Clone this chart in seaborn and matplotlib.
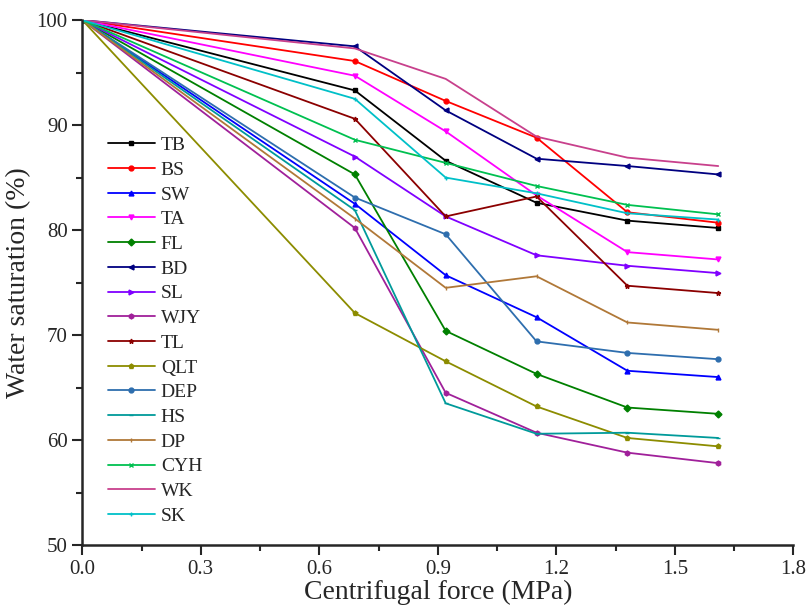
import pandas as pd
import seaborn as sns
import matplotlib.pyplot as plt

# centrifugal force steps (MPa)
force = [0, 0.69, 0.92, 1.15, 1.38, 1.61]

# water saturation (%) per sample
TB = [100, 93.3, 86.6, 82.6, 80.9, 80.2]
BS = [100, 96.1, 92.3, 88.8, 81.7, 80.7]
SW = [100, 82.5, 75.7, 71.7, 66.6, 66.0]
TA = [100, 94.7, 89.4, 83.3, 77.9, 77.2]
FL = [100, 85.3, 70.4, 66.3, 63.1, 62.5]
BD = [100, 97.5, 91.4, 86.8, 86.1, 85.3]
SL = [100, 87.0, 81.3, 77.6, 76.6, 75.9]
WJY = [100, 80.2, 64.5, 60.7, 58.8, 57.8]
TL = [100, 90.6, 81.3, 83.2, 74.7, 74.0]
QLT = [100, 72.1, 67.5, 63.2, 60.2, 59.4]
DEP = [100, 83.1, 79.6, 69.4, 68.3, 67.7]
HS = [100, 81.9, 63.5, 60.6, 60.7, 60.2]
DP = [100, 81.1, 74.5, 75.6, 71.2, 70.5]
CYH = [100, 88.6, 86.4, 84.2, 82.4, 81.5]
WK = [100, 97.3, 94.4, 88.9, 86.9, 86.1]
SK = [100, 92.5, 85.0, 83.5, 81.6, 81.0]

names = ['TB', 'BS', 'SW', 'TA', 'FL', 'BD', 'SL', 'WJY', 'TL', 'QLT',
         'DEP', 'HS', 'DP', 'CYH', 'WK', 'SK']
values = [TB, BS, SW, TA, FL, BD, SL, WJY, TL, QLT, DEP, HS, DP, CYH, WK, SK]
colors = ['#000000', '#FF0000', '#0000FF', '#FF00FF', '#008000', '#000080',
          '#8000FF', '#A0209A', '#8B0000', '#8C8C00', '#2E6EAE', '#009A9A',
          '#B07838', '#00C050', '#C8408C', '#00C0C8']
markers = ['s', 'o', '^', 'v', 'D', '<', '>', 'h', '*', 'p',
           'o', '_', '|', 'x', '', '+']

rows = []
for n, v in zip(names, values):
    for f, s in zip(force, v):
        rows.append({'Force': f, 'Saturation': s, 'Sample': n})
df = pd.DataFrame(rows)

sns.set_style('ticks')
plt.rcParams['font.family'] = ['Liberation Serif', 'DejaVu Serif']

fig = plt.figure(figsize=(8.07, 6.09), dpi=100)
ax = fig.add_axes([0.102, 0.105, 0.881, 0.862])

for n, c, m in zip(names, colors, markers):
    sns.lineplot(data=df[df['Sample'] == n], x='Force', y='Saturation',
                 color=c, marker=m if m else None, markersize=3.5,
                 markeredgewidth=1, markeredgecolor=c, linewidth=1.3,
                 label=n, ax=ax, sort=False)

ax.set_xlim(0, 1.8)
ax.set_ylim(50, 100)
ax.set_xticks([0, 0.3, 0.6, 0.9, 1.2, 1.5, 1.8])
ax.set_xticklabels(['0.0', '0.3', '0.6', '0.9', '1.2', '1.5', '1.8'])
ax.set_xticks([0.15, 0.45, 0.75, 1.05, 1.35, 1.65], minor=True)
ax.set_yticks([50, 60, 70, 80, 90, 100])
ax.set_yticks([55, 65, 75, 85, 95], minor=True)
ax.tick_params(axis='both', which='major', labelsize=15, length=7, width=1.5, direction='out')
ax.tick_params(axis='both', which='minor', length=4, width=1.5, direction='out')
ax.spines['top'].set_visible(False)
ax.spines['right'].set_visible(False)
ax.spines['left'].set_linewidth(1.8)
ax.spines['bottom'].set_linewidth(1.8)
ax.set_xlabel('Centrifugal force (MPa)', fontsize=20, labelpad=1)
ax.set_ylabel('Water saturation (%)', fontsize=20, labelpad=4)

ax.legend(loc='upper left', bbox_to_anchor=(0.025, 0.793), frameon=False,
          fontsize=14, handlelength=2.42, labelspacing=0.365, handletextpad=0.3,
          borderaxespad=0)

fig.savefig('out.png', dpi=100)
